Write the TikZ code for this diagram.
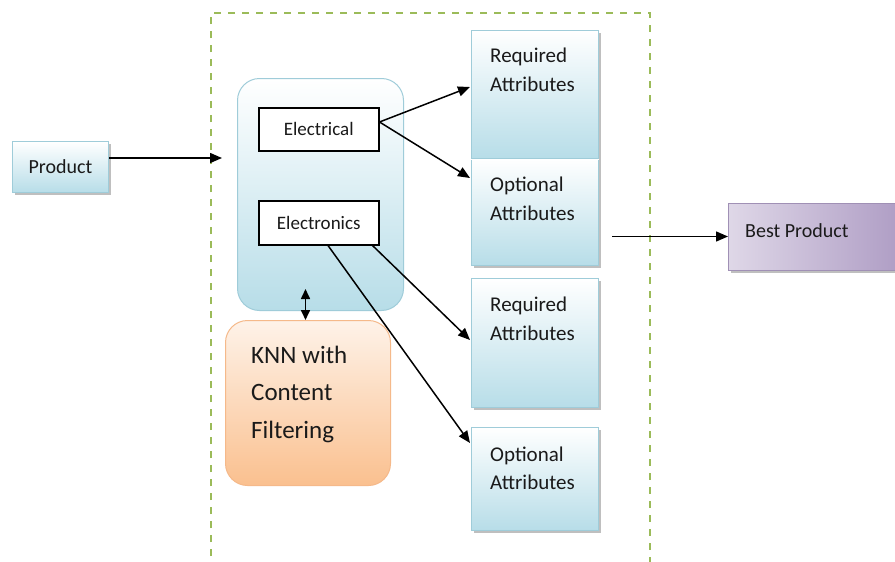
\documentclass[tikz,border=0pt]{standalone}
\usepackage{fontspec}
\setmainfont{Carlito}
\usetikzlibrary{arrows.meta,calc,shadows}
\definecolor{framegreen}{HTML}{9BBB59}
\definecolor{aqua}{HTML}{B7DDE8}
\definecolor{aquaedge}{HTML}{9FCCD9}
\definecolor{peach}{HTML}{FAC08F}
\definecolor{peachedge}{HTML}{F5B98A}
\definecolor{purp}{HTML}{AE9CC4}
\definecolor{purpedge}{HTML}{A090B5}
\definecolor{ink}{HTML}{1A1A1A}
\tikzset{
  aquabox/.style={draw=aquaedge, line width=1pt, top color=white, bottom color=aqua},
  shadowed/.style={drop shadow={shadow xshift=2.5pt, shadow yshift=-2.5pt, fill=black!45, opacity=0.55}},
  attbox/.style={aquabox, shadowed, anchor=north west, minimum width=127pt, inner sep=0pt},
  atttext/.style={anchor=base west, inner sep=0pt, text=ink, font=\fontsize{21}{25}\selectfont},
  catbox/.style={draw=black, line width=1.5pt, fill=white, minimum width=120pt, minimum height=43pt,
    anchor=north west, inner sep=0pt, text=ink, font=\fontsize{19}{22}\selectfont},
  knntext/.style={anchor=base west, inner sep=0pt, text=ink, font=\fontsize{25}{30}\selectfont},
  arr/.style={-{Triangle[length=12pt,width=10pt]}, line width=1.5pt, draw=black},
  dblarr/.style={{Triangle[length=10pt,width=9pt]}-{Triangle[length=10pt,width=9pt]}, line width=1.6pt, draw=black},
}
\begin{document}
\begin{tikzpicture}[x=1pt,y=-1pt]
\useasboundingbox (0,0) rectangle (895,562);
\clip (0,0) rectangle (895,562);
\fill[white] (0,0) rectangle (895,562);

% dashed frame
\draw[framegreen, line width=2pt, dash pattern=on 7pt off 7pt] (211,570) -- (211,13) -- (650,13) -- (650,570);

% product
\node[aquabox, shadowed, anchor=north west, minimum width=96pt, minimum height=51pt, inner sep=0pt,
  text=ink, font=\fontsize{20}{24}\selectfont] (product) at (12,141) {Product};
\coordinate (framein) at (222,158);
\draw[arr] ($(product.north east)+(0,17)$) -- (framein);

% category box
\node[aquabox, rounded corners=22pt, anchor=north west, minimum width=166pt, minimum height=232pt] (cat) at (237,78) {};
\node[catbox] (elec) at (258,107) {Electrical};
\node[catbox, minimum height=44pt] (elnc) at (258,200) {Electronics};

% KNN box
\node[draw=peachedge, line width=1pt, top color=white!80!peach, bottom color=peach, rounded corners=22pt,
  anchor=north west, minimum width=165pt, minimum height=165pt] (knn) at (225,320) {};
\node[knntext] (knn1) at (251,363) {KNN with};
\node[knntext] (knn2) at (251,400) {Content};
\node[knntext] (knn3) at (251,438) {Filtering};
\draw[dblarr] ($(knn.north)+(-2.5,-31)$) -- ($(knn.north)+(-2.5,0)$);

% attribute boxes
\node[attbox, minimum height=128pt] (req1) at (471,30) {};
\node[attbox, minimum height=107pt] (opt1) at (471,158) {};
\node[attbox, minimum height=129pt] (req2) at (471,278) {};
\node[attbox, minimum height=103pt] (opt2) at (471,427) {};
\draw[white, line width=1pt] (req1.south west) -- (req1.south east);

\node[atttext] (r1a) at (490,62) {Required};
\node[atttext] (r1b) at (490,91) {Attributes};
\node[atttext] (o1a) at (490,191) {Optional};
\node[atttext] (o1b) at (490,220) {Attributes};
\node[atttext] (r2a) at (490,311) {Required};
\node[atttext] (r2b) at (490,340) {Attributes};
\node[atttext] (o2a) at (490,461) {Optional};
\node[atttext] (o2b) at (490,489) {Attributes};

% arrows from categories
\draw[arr] ($(elec.north east)+(0,15)$) -- ($(req1.north west)+(-1,57)$);
\draw[arr] ($(elec.north east)+(0,15)$) -- ($(opt1.north west)+(-1,20)$);
\draw[arr] ($(elnc.south east)+(-7,0)$) -- ($(req2.north west)+(-1,62)$);
\draw[arr] ($(elnc.south west)+(70,0)$) -- ($(opt2.north west)+(-1,16)$);

% best product
\node[draw=purpedge, line width=1pt, shadowed, left color=purp!40!white, right color=purp,
  anchor=north west, minimum width=175pt, minimum height=67pt, inner sep=0pt] (best) at (728,203) {};
\node[anchor=base west, inner sep=0pt, text=ink, font=\fontsize{20}{24}\selectfont] (besttext) at (745,237) {Best Product};
\coordinate (bpstart) at (612,236.5);
\draw[arr] (bpstart) -- (best.west |- bpstart);
\end{tikzpicture}
\end{document}
